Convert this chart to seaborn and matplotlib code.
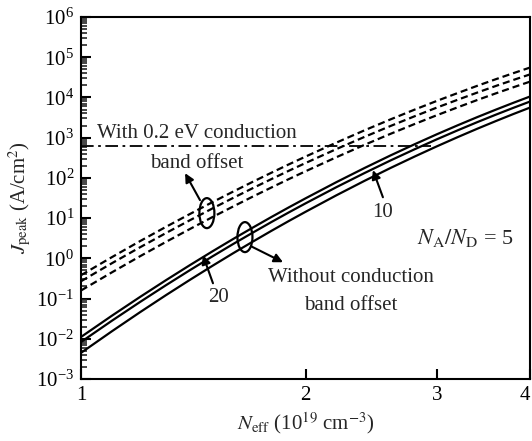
import numpy as np
import pandas as pd
import matplotlib
matplotlib.use("Agg")
import matplotlib.pyplot as plt
import matplotlib.transforms as mtransforms
from matplotlib.patches import Ellipse
import seaborn as sns

# ---------------- data ----------------
n_eff = [1.0, 1.1, 1.2, 1.3, 1.4, 1.5, 1.6, 1.7, 1.8, 1.9, 2.0,
         2.2, 2.4, 2.6, 2.8, 3.0, 3.2, 3.4, 3.6, 3.8, 4.0]        # 10^19 cm^-3
# log10(J_peak) for curves WITH 0.2 eV conduction band offset (dashed)
logj_offset_a = [-0.420, 0.029, 0.428, 0.783, 1.103, 1.395, 1.660, 1.904, 2.128, 2.337, 2.529,
                 2.877, 3.183, 3.454, 3.696, 3.914, 4.110, 4.290, 4.454, 4.604, 4.743]
logj_offset_b = [-0.570, -0.122, 0.275, 0.629, 0.948, 1.239, 1.503, 1.746, 1.970, 2.178, 2.369,
                 2.716, 3.020, 3.290, 3.531, 3.748, 3.943, 4.122, 4.286, 4.435, 4.573]
logj_offset_c = [-0.800, -0.349, 0.052, 0.409, 0.730, 1.024, 1.290, 1.536, 1.761, 1.971, 2.164,
                 2.514, 2.822, 3.095, 3.338, 3.558, 3.755, 3.937, 4.102, 4.253, 4.393]
# log10(J_peak) for curves WITHOUT conduction band offset (solid)
logj_plain_a = [-1.955, -1.427, -0.960, -0.543, -0.168, 0.172, 0.482, 0.765, 1.027, 1.268, 1.491,
                1.894, 2.246, 2.558, 2.835, 3.084, 3.308, 3.512, 3.697, 3.867, 4.023]
logj_plain_b = [-2.080, -1.552, -1.085, -0.668, -0.293, 0.047, 0.357, 0.640, 0.902, 1.143, 1.366,
                1.769, 2.121, 2.433, 2.710, 2.959, 3.183, 3.387, 3.572, 3.742, 3.898]
logj_plain_c = [-2.350, -1.814, -1.339, -0.915, -0.534, -0.188, 0.128, 0.416, 0.683, 0.929, 1.156,
                1.567, 1.927, 2.246, 2.529, 2.784, 3.014, 3.223, 3.413, 3.588, 3.748]
# horizontal dash-dot reference line
ref_x = [1.0, 2.95]
ref_j = [630.0, 630.0]

x_ticks = [1, 2, 3, 4]
x_tick_labels = ["1", "2", "3", "4"]

# ---------------- style ----------------
sns.set_theme(style="ticks")
plt.rcParams["font.family"] = ["Liberation Serif", "DejaVu Serif"]
plt.rcParams["mathtext.fontset"] = "stix"
plt.rcParams["axes.linewidth"] = 1.5

fig = plt.figure(figsize=(5.32, 4.41), dpi=100)
ax = fig.add_axes([81 / 532, 1 - 379 / 441, 449 / 532, 362 / 441])

series = [
    (logj_offset_a, (0, (3.2, 1.8))),
    (logj_offset_b, (0, (3.2, 1.8))),
    (logj_offset_c, (0, (3.2, 1.8))),
    (logj_plain_a, "-"),
    (logj_plain_b, "-"),
    (logj_plain_c, "-"),
]
for vals, ls in series:
    df = pd.DataFrame({"N": n_eff, "J": np.power(10.0, vals)})
    sns.lineplot(data=df, x="N", y="J", ax=ax, color="black", lw=1.6,
                 linestyle=ls, legend=False)

df_ref = pd.DataFrame({"N": ref_x, "J": ref_j})
sns.lineplot(data=df_ref, x="N", y="J", ax=ax, color="black", lw=1.3,
             linestyle=(0, (7, 2.5, 1.5, 2.5)), legend=False)

ax.set_xscale("log")
ax.set_yscale("log")
ax.set_xlim(1, 4)
ax.set_ylim(1e-3, 1e6)
ax.set_xticks(x_ticks)
ax.set_xticklabels(x_tick_labels)
ax.xaxis.set_minor_locator(matplotlib.ticker.NullLocator())
ax.yaxis.set_major_locator(matplotlib.ticker.LogLocator(base=10, numticks=20))
ax.yaxis.set_minor_locator(matplotlib.ticker.LogLocator(base=10, subs=np.arange(2, 10), numticks=20))
ax.yaxis.set_minor_formatter(matplotlib.ticker.NullFormatter())

ax.tick_params(axis="both", which="major", direction="in", length=7, width=1.5,
               labelsize=15, pad=5, colors="black")
ax.tick_params(axis="y", which="minor", direction="in", length=4, width=1.2)
ax.tick_params(top=False, right=False, which="both")
for s in ax.spines.values():
    s.set_color("black")
    s.set_linewidth(1.5)

# keep the last x tick label inside the figure
ax.get_xticklabels()[-1].set_horizontalalignment("right")

ax.set_xlabel(r"$N_{\mathrm{eff}}$ (10$^{19}$ cm$^{-3}$)", fontsize=15, labelpad=4)
ax.set_ylabel(r"$J_{\mathrm{peak}}$ (A/cm$^{2}$)", fontsize=15, labelpad=2)

# ---------------- annotations ----------------
fs = 15
ax.text(1.431, 1300, "With 0.2 eV conduction", ha="center", va="center", fontsize=fs)
ax.text(1.431, 233, "band offset", ha="center", va="center", fontsize=fs)
ax.text(2.302, 0.34, "Without conduction", ha="center", va="center", fontsize=fs)
ax.text(2.302, 0.0686, "band offset", ha="center", va="center", fontsize=fs)
ax.text(1.527, 0.108, "20", ha="center", va="center", fontsize=fs)
ax.text(2.54, 14.1, "10", ha="center", va="center", fontsize=fs)
ax.text(3.28, 3.2, r"$N_{\mathrm{A}}/N_{\mathrm{D}}$ = 5", ha="center", va="center", fontsize=16)

arrow_kw = dict(arrowstyle="-|>", color="black", lw=1.5, mutation_scale=13,
                shrinkA=0, shrinkB=0)
ax.annotate("", xy=(1.379, 131), xytext=(1.444, 28), arrowprops=arrow_kw)
ax.annotate("", xy=(1.866, 0.80), xytext=(1.690, 2.0), arrowprops=arrow_kw)
ax.annotate("", xy=(1.457, 1.20), xytext=(1.503, 0.24), arrowprops=arrow_kw)
ax.annotate("", xy=(2.463, 156), xytext=(2.540, 33), arrowprops=arrow_kw)

for (cx, cy) in [(1.475, 13.3), (1.659, 3.37)]:
    tr = fig.dpi_scale_trans + mtransforms.ScaledTranslation(cx, cy, ax.transData)
    ax.add_patch(Ellipse((0, 0), 0.15, 0.30, transform=tr, fill=False,
                         edgecolor="black", lw=1.6))

fig.savefig("out.png", dpi=100)
